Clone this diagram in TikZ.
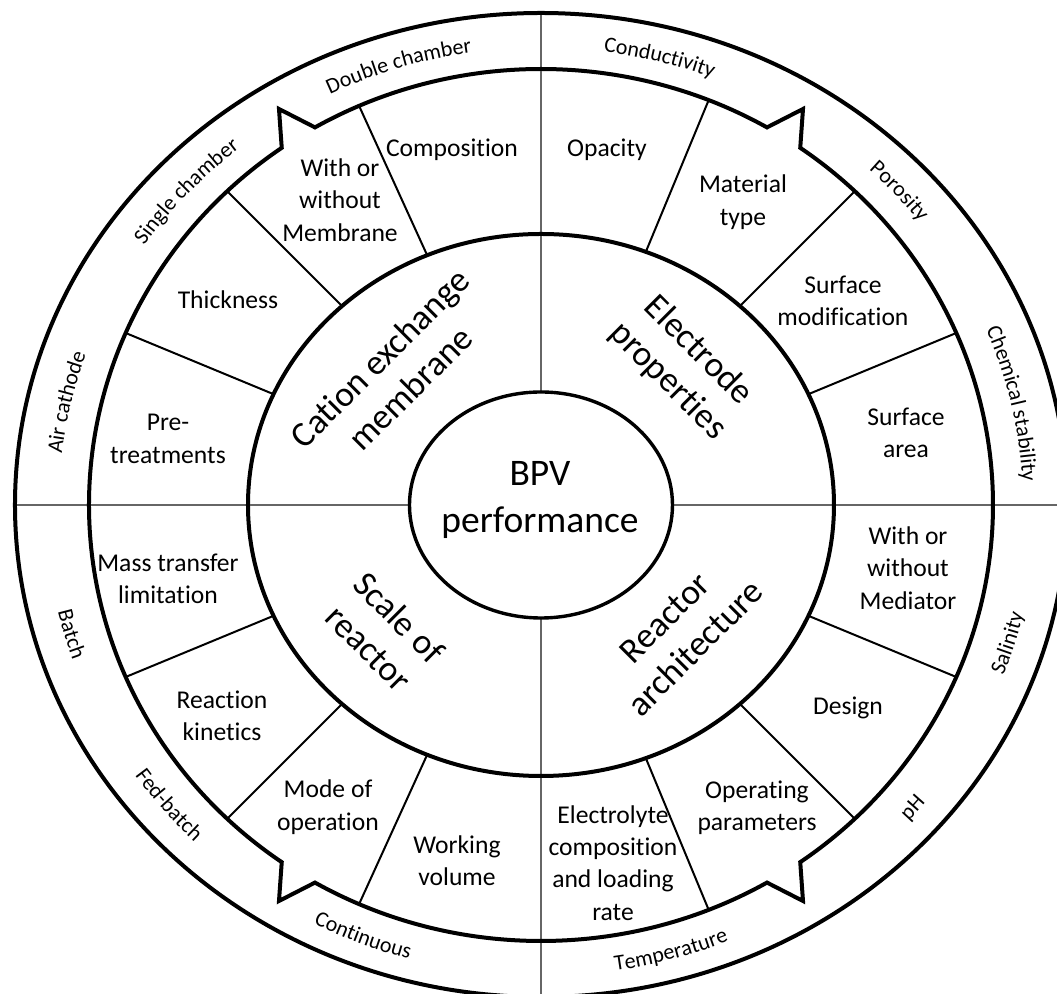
\documentclass[tikz,border=0pt]{standalone}
\usepackage{fontspec}
\setmainfont{Carlito}[Ligatures=CommonOff]
\usetikzlibrary{decorations.text}
\newcommand\ringfont{\fontsize{11}{13}\selectfont}
\tikzstyle{ring}=[line width=2pt]
\tikzstyle{axis}=[line width=0.65pt, black!60]
\tikzstyle{divider}=[line width=1pt]
\tikzstyle{factor}=[align=center, font=\fontsize{12.8}{16.2}\selectfont]
\tikzstyle{category}=[align=center, font=\fontsize{17.8}{21.5}\selectfont]
\tikzstyle{core}=[align=center, font=\fontsize{18.75}{23.5}\selectfont]
\tikzstyle{ringtext}=[decorate, decoration={text along path, text align=center}]

\begin{document}
\begin{tikzpicture}[x=0.5pt, y=0.5pt]
                    \useasboundingbox (-541,-489) rectangle (516,505);
                    \clip (-541,-489) rectangle (516,505);
                    % axes
                    \draw[axis] (0,113)    -- (0,492);
                    \draw[axis] (0,-113)   -- (0,-492);
                    \draw[axis] (131.5,0)  -- (526,0);
                    \draw[axis] (-131.5,0) -- (-526,0);
                    % dividers of the middle ring
                    \draw[divider] (267.4,110.8)   -- (415.3,172.0);
                    \draw[divider] (199.0,199.0)   -- (313.8,313.8);
                    \draw[divider] (104.8,253.1)   -- (167.7,404.9);
                    \draw[divider] (-113.8,249.7)  -- (-181.9,399.1);
                    \draw[divider] (-199.0,199.0)  -- (-313.8,313.8);
                    \draw[divider] (-267.4,110.8)  -- (-415.3,172.0);
                    \draw[divider] (-267.4,-110.8) -- (-415.3,-172.0);
                    \draw[divider] (-199.0,-199.0) -- (-313.8,-313.8);
                    \draw[divider] (-113.8,-249.7) -- (-181.9,-399.1);
                    \draw[divider] (104.8,-253.1)  -- (167.7,-404.9);
                    \draw[divider] (199.0,-199.0)  -- (313.8,-313.8);
                    \draw[divider] (267.4,-110.8)  -- (415.3,-172.0);
                    % rings
                    \draw[ring] (0,0) ellipse[x radius=526, y radius=492];
                    \draw[ring] (0:452 and 436) arc (0:55:452 and 436)
                                -- (262,396)   -- (60:452 and 436)  arc (60:120:452 and 436)
                                -- (-262,396)  -- (125:452 and 436) arc (125:235:452 and 436)
                                -- (-262,-396) -- (240:452 and 436) arc (240:300:452 and 436)
                                -- (262,-396)  -- (305:452 and 436) arc (305:360:452 and 436) -- cycle;
                    \draw[ring] (0,0) ellipse[x radius=293, y radius=271];
                    \draw[line width=1.7pt, fill=white] (0,0) ellipse[x radius=131.5, y radius=113];
                    % centre and categories
                    \node[core] (bpv) at (-1,5) {BPV\\performance};
                    \node[category, rotate=45]  (cem)  at (-146,132)  {Cation exchange\\membrane};
                    \node[category, rotate=-45] (elec) at (142,139)   {Electrode\\properties};
                    \node[category, rotate=-45] (scal) at (-157,-128) {Scale of\\reactor};
                    \node[category, rotate=45]  (arch) at (139,-128)  {Reactor\\architecture};
                    % factors
                    \node[factor] (comp)  at (-89,355)   {Composition};
                    \node[factor] (memb)  at (-201,305)  {With or\\without\\Membrane};
                    \node[factor] (thick) at (-313,205)  {Thickness};
                    \node[factor] (pret)  at (-373,66)   {Pre-\\treatments};
                    \node[factor] (opac)  at (66,355)    {Opacity};
                    \node[factor] (mat)   at (202,303)   {Material\\type};
                    \node[factor] (smod)  at (302,204)   {Surface\\modification};
                    \node[factor] (sarea) at (365,72)    {Surface\\area};
                    \node[factor] (mass)  at (-373,-74)  {Mass transfer\\limitation};
                    \node[factor] (kin)   at (-319,-211) {Reaction\\kinetics};
                    \node[factor] (mode)  at (-213,-302) {Mode of\\operation};
                    \node[factor] (vol)   at (-84,-356)  {Working\\volume};
                    \node[factor] (med)   at (367,-63)   {With or\\without\\Mediator};
                    \node[factor] (des)   at (307,-203)  {Design};
                    \node[factor] (oper)  at (216,-303)  {Operating\\parameters};
                    \node[factor] (elyt)  at (72,-358)   {Electrolyte\\composition\\and loading\\rate};
                    % outer ring
                    \path[ringtext, decoration={text={|\ringfont|Double chamber}}]     (137.3:482 and 457) arc (137.3:77.3:482 and 457);
                    \path[ringtext, decoration={text={|\ringfont|Single chamber}}]     (167.4:482 and 457) arc (167.4:107.4:482 and 457);
                    \path[ringtext, decoration={text={|\ringfont|Air cathode}}]        (197.3:482 and 457) arc (197.3:137.3:482 and 457);
                    \path[ringtext, decoration={text={|\ringfont|Conductivity}}]       (105.7:482 and 457) arc (105.7:45.7:482 and 457);
                    \path[ringtext, decoration={text={|\ringfont|Porosity}}]           (72.3:482 and 457)  arc (72.3:12.3:482 and 457);
                    \path[ringtext, decoration={text={|\ringfont|Chemical stability}}] (42.6:482 and 457)  arc (42.6:-17.4:482 and 457);
                    \path[ringtext, decoration={text={|\ringfont|Batch}}]              (166:496 and 471)   arc (166:226:496 and 471);
                    \path[ringtext, decoration={text={|\ringfont|Fed-batch}}]          (190:496 and 471)   arc (190:250:496 and 471);
                    \path[ringtext, decoration={text={|\ringfont|Continuous}}]         (218.4:496 and 471) arc (218.4:278.4:496 and 471);
                    \path[ringtext, decoration={text={|\ringfont|Temperature}}]        (255.6:496 and 471) arc (255.6:315.6:496 and 471);
                    \path[ringtext, decoration={text={|\ringfont|pH}}]                 (289.7:496 and 471) arc (289.7:349.7:496 and 471);
                    \path[ringtext, decoration={text={|\ringfont|Salinity}}]           (312.9:496 and 471) arc (312.9:372.9:496 and 471);
                \end{tikzpicture}
\end{document}
